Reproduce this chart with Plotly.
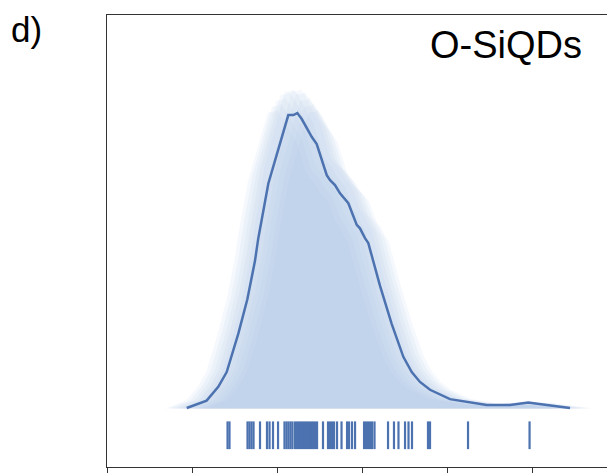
import plotly.graph_objects as go

# KDE curve (size, density)
kde_x = [0.938, 1.172, 1.309, 1.408, 1.545, 1.651, 1.741, 1.780, 1.898, 2.015,
         2.133, 2.192, 2.239, 2.291, 2.368, 2.408, 2.467, 2.585, 2.624, 2.682,
         2.741, 2.839, 2.938, 2.976, 3.035, 3.074, 3.212, 3.349, 3.486, 3.545,
         3.585, 3.682, 3.800, 4.035, 4.232, 4.467, 4.741, 4.956, 5.173, 5.447]
kde_y = [0.001, 0.016, 0.044, 0.074, 0.152, 0.222, 0.300, 0.346, 0.457, 0.524,
         0.596, 0.596, 0.600, 0.588, 0.564, 0.552, 0.537, 0.474, 0.464, 0.454,
         0.437, 0.417, 0.373, 0.366, 0.346, 0.336, 0.249, 0.172, 0.105, 0.085,
         0.074, 0.054, 0.038, 0.019, 0.014, 0.007, 0.007, 0.012, 0.007, 0.001]

# individual observations (rug)
rug_x = [1.418, 1.441, 1.653, 1.676, 1.700, 1.724, 1.800, 1.882, 1.912, 1.953,
         2.012, 2.088, 2.112, 2.135, 2.159, 2.182, 2.212, 2.235, 2.259, 2.282,
         2.306, 2.329, 2.353, 2.376, 2.400, 2.424, 2.447, 2.471, 2.541, 2.600,
         2.624, 2.647, 2.671, 2.706, 2.759, 2.824, 2.847, 2.882, 2.918, 3.024,
         3.047, 3.071, 3.094, 3.118, 3.147, 3.306, 3.376, 3.429, 3.506, 3.547,
         3.588, 3.776, 3.800, 4.247, 4.971]

x_ticks = [0, 1, 2, 3, 4, 5]
label = "O-SiQDs"
panel = "d)"

BLUE = "#4c72b0"
fig = go.Figure()

# soft (blurred) fill built from several offset copies of the curve
offsets = [-0.24, -0.19, -0.14, -0.09, -0.04, 0.04, 0.09, 0.14, 0.19, 0.24]
scales = [1.01, 1.03, 1.05, 1.07, 1.08, 1.08, 1.07, 1.05, 1.03, 1.01]
for s, k in zip(offsets, scales):
    fig.add_trace(go.Scatter(
        x=[v + s for v in kde_x], y=[v * k for v in kde_y],
        mode="lines", line=dict(width=0), fill="tozeroy",
        fillcolor="rgba(178,200,234,0.125)", hoverinfo="skip", showlegend=False))

fig.add_trace(go.Scatter(x=kde_x, y=kde_y, mode="lines",
                         line=dict(color=BLUE, width=2.5), showlegend=False))

# rug
rx, ry = [], []
for v in rug_x:
    rx += [v, v, None]
    ry += [-0.0262, -0.0825, None]
fig.add_trace(go.Scatter(x=rx, y=ry, mode="lines",
                         line=dict(color=BLUE, width=2.2), showlegend=False))

fig.update_layout(
    width=607, height=473,
    margin=dict(l=107, r=0, t=15, b=2),
    paper_bgcolor="white", plot_bgcolor="white",
    font=dict(family="Liberation Sans, Arial, sans-serif", color="black"),
    xaxis=dict(range=[0, 5.882], showgrid=False, zeroline=False,
               showline=True, linecolor="#333333", linewidth=1.3, mirror=True,
               ticks="outside", ticklen=6, tickcolor="#333333", tickwidth=1.3,
               tickvals=x_ticks, showticklabels=False),
    yaxis=dict(range=[-0.1188, 0.7993], showgrid=False, zeroline=False,
               showline=True, linecolor="#333333", linewidth=1.3,
               showticklabels=False, ticks=""),
    annotations=[
        dict(text=label, xref="paper", yref="paper", x=0.953, y=0.934,
             xanchor="right", yanchor="middle", showarrow=False,
             font=dict(size=38, color="black")),
        dict(text=panel, xref="paper", yref="paper", x=-0.196, y=0.967,
             xanchor="left", yanchor="middle", showarrow=False,
             font=dict(size=35, color="black")),
    ],
)

fig.write_html("out.html")
